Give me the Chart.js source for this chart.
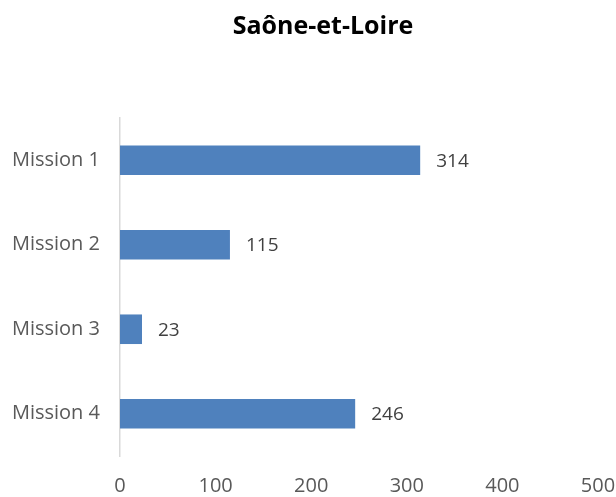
<!DOCTYPE html>
<html>
<head>
<meta charset="utf-8">
<script src="https://cdn.jsdelivr.net/npm/chart.js@4"></script>
<style>
  html, body { margin: 0; padding: 0; background: #fff; }
  canvas { display: block; }
</style>
</head>
<body>
<canvas id="grafica" width="616" height="497"></canvas>
<script>
const categorias = ["Mission 1", "Mission 2", "Mission 3", "Mission 4"];
const valores = [314, 115, 23, 246];
const titulo = "Saône-et-Loire";
const ejeMin = 0;
const ejeMax = 500;
const ejePaso = 100;

// etiquetas a la derecha de cada barra
const etiquetasBarras = {
  id: "etiquetasBarras",
  afterLayout(chart) {
    // centrar el título como en el original (un poco a la derecha)
    if (chart.titleBlock) {
      chart.titleBlock.left = 48;
      chart.titleBlock.right = 598;
    }
  },
  afterDatasetsDraw(chart) {
    const ctx = chart.ctx;
    const meta = chart.getDatasetMeta(0);
    ctx.save();
    ctx.font = "19px 'Open Sans'";
    ctx.fillStyle = "#404040";
    ctx.textBaseline = "middle";
    ctx.textAlign = "left";
    meta.data.forEach((barra, i) => {
      ctx.fillText(String(valores[i]), barra.x + 16, barra.y + 1);
    });
    ctx.restore();
  }
};

const ctx = document.getElementById("grafica").getContext("2d");
new Chart(ctx, {
  type: "bar",
  data: {
    labels: categorias,
    datasets: [{
      data: valores,
      backgroundColor: "#4f81bd",
      borderWidth: 0,
      categoryPercentage: 1,
      barPercentage: 0.35
    }]
  },
  options: {
    indexAxis: "y",
    responsive: false,
    animation: false,
    layout: { autoPadding: false, padding: { left: 0, right: 18, top: 0, bottom: 0 } },
    plugins: {
      legend: { display: false },
      tooltip: { enabled: false },
      title: {
        display: true,
        text: titulo,
        color: "#000",
        font: { family: "'Open Sans'", size: 25, weight: "bold" },
        padding: { top: 12, bottom: 76 }
      }
    },
    scales: {
      x: {
        min: ejeMin,
        max: ejeMax,
        ticks: {
          stepSize: ejePaso,
          color: "#595959",
          font: { family: "'Open Sans'", size: 20 },
          padding: 18
        },
        grid: { display: false, drawTicks: false },
        border: { display: false },
        afterFit(scale) {
          scale.height = 41;
          scale.paddingLeft = 0;
          scale.paddingRight = 0;
        }
      },
      y: {
        ticks: {
          color: "#595959",
          font: { family: "'Open Sans'", size: 20 },
          padding: 20
        },
        grid: { display: false, drawTicks: false },
        border: { display: true, color: "#d9d9d9", width: 1.5 },
        afterFit(scale) { scale.width = 120; }
      }
    }
  },
  plugins: [etiquetasBarras]
});
</script>
</body>
</html>
